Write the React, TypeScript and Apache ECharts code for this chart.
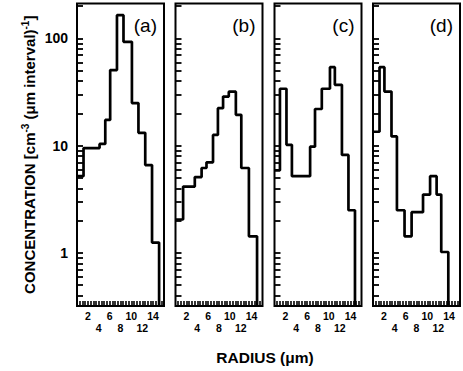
import React, { useEffect, useRef } from 'react';
import * as echarts from 'echarts';

// ---- data ----
const panelLabels = ['(a)', '(b)', '(c)', '(d)'];

// bin edges (radius, µm) and concentrations for each panel
const edgesA = [0, 1.2, 4.15, 5.2, 6.1, 7.35, 8.55, 10.1, 11.3, 12.55, 13.8, 15.1];
const valuesA = [5.2, 9.5, 10.4, 17.4, 50.7, 165, 93, 25, 13.2, 6.6, 1.25];

const edgesB = [0, 1.4, 3.55, 4.8, 5.7, 6.9, 7.8, 8.75, 9.8, 11.1, 12.1, 13.5, 15.0];
const valuesB = [2.05, 4.16, 5.1, 6.2, 7.0, 12.6, 22.4, 28.7, 31.9, 19.4, 6.2, 1.43];

const edgesC = [0, 1.0, 2.2, 3.2, 6.55, 7.45, 8.7, 10.2, 11.1, 12.4, 13.6, 14.8];
const valuesC = [5.9, 34, 10.2, 5.2, 9.8, 22, 34, 54, 37, 8.2, 2.5];

const edgesD = [0, 1.2, 2.1, 3.4, 4.4, 5.8, 7.1, 9.2, 10.5, 11.7, 12.55, 13.85];
const valuesD = [13.5, 54, 32, 12.2, 2.5, 1.43, 2.4, 3.5, 5.2, 3.5, 1.02];

const xUpperRow = [2, 6, 10, 14];
const xLowerRow = [4, 8, 12];
const xMinorTicks = [0.5, 1, 1.5, 2, 2.5, 3, 3.5, 4, 4.5, 5, 5.5, 6, 6.5, 7, 7.5, 8, 8.5, 9, 9.5, 10, 10.5, 11, 11.5, 12, 12.5, 13, 13.5, 14, 14.5, 15, 15.5];
const yTickLabels = [1, 10, 100];
const yMinorTicks = [0.4, 0.5, 0.6, 0.7, 0.8, 0.9, 1, 2, 3, 4, 5, 6, 7, 8, 9, 10, 20, 30, 40, 50, 60, 70, 80, 90, 100, 200];

const X_MIN = 0;
const X_MAX = 16;
const Y_MIN = 0.32;
const Y_MAX = 212;

const panels = [
  { edges: edgesA, values: valuesA },
  { edges: edgesB, values: valuesB },
  { edges: edgesC, values: valuesC },
  { edges: edgesD, values: valuesD },
];

function stepPoints(edges: number[], values: number[]): number[][] {
  const pts: number[][] = [[edges[0], values[0]]];
  for (let i = 0; i < values.length; i++) {
    pts.push([edges[i + 1], values[i]]);
    if (i + 1 < values.length) pts.push([edges[i + 1], values[i + 1]]);
  }
  pts.push([edges[edges.length - 1], Y_MIN]);
  return pts;
}

const FONT = 'Liberation Sans, Arial, sans-serif';
const GRID_LEFTS = [77, 175.5, 274.5, 373];
const GRID_W = 87;
const GRID_TOP = 3.5;
const GRID_H = 302.5;
const INK = '#000000';

export default function App() {
  const ref = useRef<HTMLDivElement>(null);
  useEffect(() => {
    if (!ref.current) return;
    const chart = echarts.init(ref.current, null, { renderer: 'svg' });
    const grids = GRID_LEFTS.map((l) => ({
      left: l,
      top: GRID_TOP,
      width: GRID_W,
      height: GRID_H,
      show: true,
      borderColor: INK,
      borderWidth: 2,
    }));
    const xLabelStyle = {
      show: true,
      showMinLabel: true,
      showMaxLabel: true,
      margin: 4,
      fontSize: 10.5,
      fontWeight: 'bold',
      color: INK,
      fontFamily: FONT,
    };
    const xAxes: any[] = [];
    GRID_LEFTS.forEach((_, i) => {
      xAxes.push({
        type: 'value',
        gridIndex: i,
        min: X_MIN,
        max: X_MAX,
        axisLine: { show: false },
        splitLine: { show: false },
        axisTick: {
          show: true,
          inside: true,
          length: 5,
          customValues: xMinorTicks,
          lineStyle: { color: INK, width: 1.6 },
        },
        axisLabel: { ...xLabelStyle, customValues: xUpperRow },
      });
    });
    GRID_LEFTS.forEach((_, i) => {
      xAxes.push({
        type: 'value',
        gridIndex: i,
        min: X_MIN,
        max: X_MAX,
        position: 'bottom',
        offset: 12,
        axisLine: { show: false },
        splitLine: { show: false },
        axisTick: { show: false },
        axisLabel: { ...xLabelStyle, customValues: xLowerRow },
      });
    });
    const yAxes = GRID_LEFTS.map((_, i) => {
      const ax: any = {
        type: 'log',
        logBase: 10,
        gridIndex: i,
        min: Y_MIN,
        max: Y_MAX,
        axisLine: { show: false },
        splitLine: { show: false },
        axisTick: {
          show: true,
          inside: true,
          length: 6,
          customValues: yMinorTicks,
          lineStyle: { color: INK, width: 1.8 },
        },
        axisLabel: {
          show: i === 0,
          customValues: yTickLabels,
          margin: 9,
          fontSize: 14,
          fontWeight: 'bold',
          color: INK,
          fontFamily: FONT,
        },
      };
      if (i === 0) {
        ax.name = '{t|CONCENTRATION [cm}{s|-3}{t| (μm interval)}{s|-1}{t|]}';
        ax.nameLocation = 'middle';
        ax.nameRotate = 90;
        ax.nameGap = 38;
        ax.nameTextStyle = {
          color: INK,
          rich: {
            t: { fontSize: 15, fontWeight: 'bold', fontFamily: FONT, color: INK, lineHeight: 19 },
            s: { fontSize: 10, fontWeight: 'bold', fontFamily: FONT, color: INK, verticalAlign: 'top', lineHeight: 19 },
          },
        };
      }
      return ax;
    });
    const series = panels.map((p, i) => ({
      type: 'line',
      xAxisIndex: i,
      yAxisIndex: i,
      data: stepPoints(p.edges, p.values),
      symbol: 'none',
      lineStyle: { color: INK, width: 2.7 },
      z: 3,
    }));
    const graphics: any[] = GRID_LEFTS.map((l, i) => ({
      type: 'text',
      x: l + GRID_W - 7,
      y: 16,
      style: {
        text: panelLabels[i],
        font: `19px ${FONT}`,
        fill: INK,
        textAlign: 'right',
        textVerticalAlign: 'top',
      },
    }));
    graphics.push({
      type: 'text',
      x: 265,
      y: 357,
      style: {
        text: 'RADIUS (μm)',
        font: `bold 15.5px ${FONT}`,
        fill: INK,
        textAlign: 'center',
        textVerticalAlign: 'middle',
      },
    });
    chart.setOption({
      animation: false,
      backgroundColor: '#fff',
      grid: grids,
      xAxis: xAxes,
      yAxis: yAxes,
      series,
      graphic: graphics,
    } as any);
    return () => chart.dispose();
  }, []);
  return (
    <div
      ref={ref}
      style={{ position: 'fixed', left: 0, top: 0, width: 463, height: 371, background: '#fff' }}
    />
  );
}
